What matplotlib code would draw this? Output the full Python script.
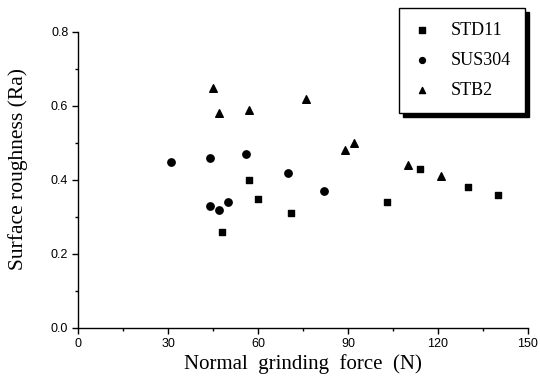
import matplotlib
matplotlib.use("Agg")
import matplotlib.pyplot as plt
from matplotlib.ticker import MultipleLocator, FormatStrFormatter

# ---- data ----
std11_force = [48, 57, 60, 71, 103, 114, 130, 140]
std11_ra = [0.26, 0.40, 0.35, 0.31, 0.34, 0.43, 0.38, 0.36]

sus304_force = [31, 44, 56, 44, 47, 50, 70, 82]
sus304_ra = [0.45, 0.46, 0.47, 0.33, 0.32, 0.34, 0.42, 0.37]

stb2_force = [45, 47, 57, 76, 89, 92, 110, 121]
stb2_ra = [0.65, 0.58, 0.59, 0.62, 0.48, 0.50, 0.44, 0.41]

SERIF = ["Liberation Serif", "DejaVu Serif"]
SANS = ["Liberation Sans", "DejaVu Sans"]

fig = plt.figure(figsize=(5.4, 3.82), dpi=100)
ax = fig.add_axes([78 / 540, 1 - 328 / 382, 450 / 540, 296 / 382])

ax.scatter(std11_force, std11_ra, marker="s", s=22, c="black", label="STD11")
ax.scatter(sus304_force, sus304_ra, marker="o", s=28, c="black", label="SUS304")
ax.scatter(stb2_force, stb2_ra, marker="^", s=30, c="black", label="STB2")

ax.set_xlim(0, 150)
ax.set_ylim(0, 0.8)
ax.xaxis.set_major_locator(MultipleLocator(30))
ax.xaxis.set_minor_locator(MultipleLocator(15))
ax.yaxis.set_major_locator(MultipleLocator(0.2))
ax.yaxis.set_minor_locator(MultipleLocator(0.1))
ax.yaxis.set_major_formatter(FormatStrFormatter("%.1f"))

for side in ("top", "right"):
    ax.spines[side].set_visible(False)
for side in ("left", "bottom"):
    ax.spines[side].set_linewidth(1.0)

ax.tick_params(which="major", direction="out", length=4, width=1, labelsize=9, pad=3)
ax.tick_params(which="minor", direction="out", length=2.5, width=1)
for lab in ax.get_xticklabels() + ax.get_yticklabels():
    lab.set_family(SANS)

ax.set_xlabel("Normal  grinding  force  (N)", family=SERIF, fontsize=15, labelpad=3)
ax.set_ylabel("Surface roughness (Ra)", family=SERIF, fontsize=15.5)
# rotated label: x coordinate is its right edge
ax.yaxis.set_label_coords(-0.111, 0.537)

leg = ax.legend(
    loc="upper right",
    bbox_to_anchor=(525 / 540, 1 - 8 / 382),
    bbox_transform=fig.transFigure,
    borderaxespad=0,
    prop={"family": SERIF, "size": 13},
    frameon=True,
    fancybox=False,
    shadow={"color": "black", "alpha": 1.0, "ox": 3, "oy": -3},
    labelspacing=0.72,
    handlelength=1.0,
    handletextpad=1.1,
    borderpad=0.78,
    markerscale=0.8,
    scatterpoints=1,
)
leg.get_frame().set_edgecolor("black")
leg.get_frame().set_linewidth(1.0)

fig.savefig("out.png", dpi=100)
